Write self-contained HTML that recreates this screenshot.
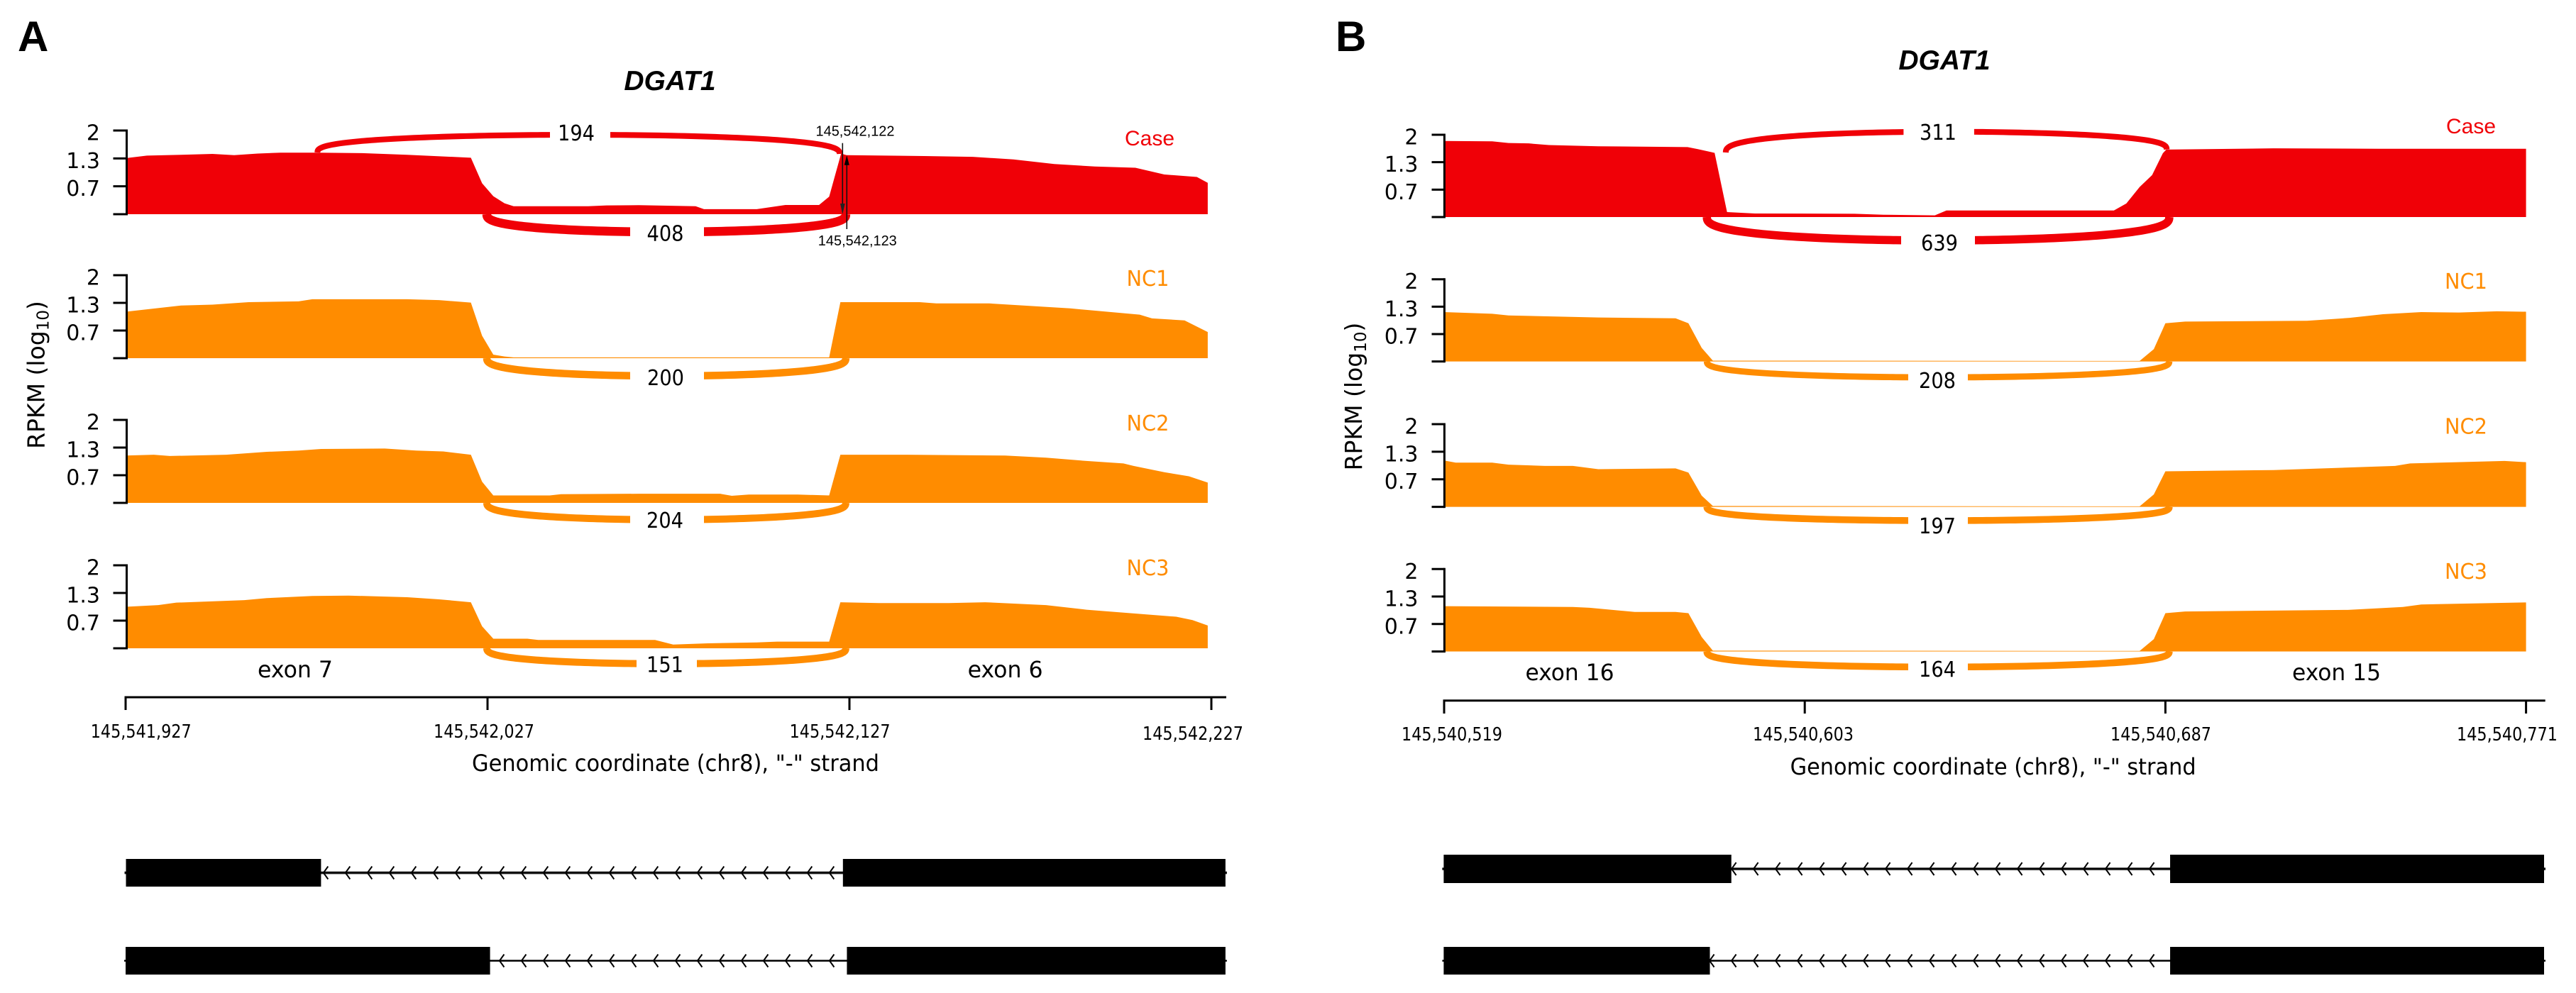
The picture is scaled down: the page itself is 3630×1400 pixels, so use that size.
<!DOCTYPE html>
<html lang="en">
<head>
<meta charset="utf-8">
<title>DGAT1 sashimi plots</title>
<style>
  html, body { margin: 0; padding: 0; background: #fff; }
  svg { display: block; }
  text { font-family: "DejaVu Sans", "Liberation Sans", sans-serif; fill: #000; }
  .arial { font-family: "Liberation Sans", sans-serif; }
  .panel-letter { font-family: "Liberation Sans", sans-serif; font-weight: 700; font-size: 60px; }
  .title { font-family: "Liberation Sans", sans-serif; font-weight: 700; font-style: italic; font-size: 39px; }
</style>
</head>
<body>
<svg id="chart" xmlns="http://www.w3.org/2000/svg" width="3630" height="1400" viewBox="0 0 3630 1400">
  <rect x="0" y="0" width="3630" height="1400" fill="#fff"/>
  <text class="panel-letter" x="25" y="72">A</text>
  <text class="panel-letter" x="1882" y="72">B</text>
  <text class="title" x="944" y="127" text-anchor="middle">DGAT1</text>
  <text class="title" x="2740" y="98" text-anchor="middle">DGAT1</text>

  <text font-size="33" text-anchor="middle" transform="translate(62.5 528.5) rotate(-90)">RPKM (log<tspan font-size="23" dy="6">10</tspan><tspan dy="-6">)</tspan></text>
  <text font-size="33" text-anchor="middle" transform="translate(1919 559) rotate(-90)">RPKM (log<tspan font-size="23" dy="6">10</tspan><tspan dy="-6">)</tspan></text>

  <text font-size="32" x="952" y="1087" text-anchor="middle" textLength="574" lengthAdjust="spacingAndGlyphs">Genomic coordinate (chr8), "-" strand</text>
  <text font-size="32" x="2808.6" y="1092" text-anchor="middle" textLength="572" lengthAdjust="spacingAndGlyphs">Genomic coordinate (chr8), "-" strand</text>

  <text font-size="32" x="416" y="955" text-anchor="middle" textLength="106" lengthAdjust="spacingAndGlyphs">exon 7</text>
  <text font-size="32" x="1416.6" y="955" text-anchor="middle" textLength="106" lengthAdjust="spacingAndGlyphs">exon 6</text>
  <text font-size="32" x="2212" y="959" text-anchor="middle" textLength="125" lengthAdjust="spacingAndGlyphs">exon 16</text>
  <text font-size="32" x="3292.5" y="959" text-anchor="middle" textLength="125" lengthAdjust="spacingAndGlyphs">exon 15</text>

  <g id="tracks"></g>
  <g id="axes"></g>
  <g id="genes"></g>

  <g>
    <line x1="1187.3" y1="201.7" x2="1187.3" y2="290" stroke="#111" stroke-width="1.6"/>
    <polygon points="1184,287 1190.7,287 1187.3,302" fill="#222"/>
    <line x1="1193.3" y1="323" x2="1193.3" y2="230" stroke="#111" stroke-width="1.6"/>
    <polygon points="1189.8,232.7 1196.8,232.7 1193.3,219" fill="#000"/>
    <text class="arial" font-size="20" x="1205" y="191.5" text-anchor="middle" textLength="111" lengthAdjust="spacingAndGlyphs">145,542,122</text>
    <text class="arial" font-size="20" x="1208.3" y="346" text-anchor="middle" textLength="111" lengthAdjust="spacingAndGlyphs">145,542,123</text>
  </g>
</svg>

<script>
// ---------- data: read-depth (log10 RPKM) at genomic offsets (bp from first tick) ----------
const aCaseBp  = [0,5.9,15.3,24,30,36.5,42.8,52.9,65.3,77.8,95.4,98.5,101.6,104.7,107.2,127.8,132.9,141.8,157.5,159.8,174.4,182.3,191.6,194.4,197.7,199.2,220.6,234.1,245.3,256.6,267.8,279,287,296,299];
const aCaseCov = [1.34,1.40,1.42,1.44,1.41,1.45,1.47,1.47,1.46,1.42,1.35,0.74,0.43,0.26,0.19,0.19,0.21,0.215,0.19,0.12,0.12,0.22,0.22,0.42,1.45,1.41,1.39,1.37,1.31,1.20,1.14,1.11,0.95,0.89,0.75];

const aNc1Bp  = [0,15.3,24,34,47.8,51.6,77.8,86.6,95.4,98.5,101.6,104.7,107.2,194.4,197.5,219.4,224,238.6,261,280.2,283.6,292.6,299];
const aNc1Cov = [1.12,1.27,1.29,1.35,1.37,1.42,1.42,1.40,1.34,0.54,0.085,0.04,0.02,0.02,1.35,1.35,1.32,1.32,1.20,1.05,0.96,0.91,0.63];

const aNc2Bp  = [0,7.8,12.2,27.8,39,47.8,54,71.6,80.3,87.8,95.4,98.5,101.6,117.2,120.3,141.8,164.3,167.5,172.2,185.7,194.4,197.5,216,243,254.3,265.5,275.7,278.5,287,293.8,299];
const aNc2Cov = [1.14,1.16,1.13,1.16,1.23,1.26,1.30,1.31,1.26,1.24,1.16,0.51,0.18,0.18,0.21,0.22,0.22,0.17,0.20,0.20,0.18,1.16,1.16,1.14,1.09,1.01,0.95,0.89,0.74,0.64,0.49];

const aNc3Bp  = [0,9,14,32.8,39,51.6,61.6,77.8,86.6,95.4,98.5,101.6,111,114,141.8,146.3,151.3,160.9,174.4,180,194.4,197.5,208.2,227.4,237.5,254.3,265.5,290.3,294.8,299];
const aNc3Cov = [1.0,1.04,1.10,1.16,1.21,1.26,1.27,1.23,1.18,1.11,0.53,0.23,0.23,0.20,0.20,0.20,0.09,0.12,0.14,0.16,0.16,1.11,1.09,1.09,1.11,1.04,0.93,0.76,0.68,0.55];

const bCaseBp  = [0,11.2,15,19.7,24.4,35.9,56.7,59.1,63,65.9,72.4,95.6,102.3,114.3,117,156,158.9,162,164.9,167.4,168.2,193.2,217.7,252];
const bCaseCov = [1.85,1.84,1.80,1.79,1.75,1.72,1.70,1.65,1.56,0.12,0.086,0.08,0.057,0.04,0.16,0.16,0.33,0.73,1.02,1.55,1.64,1.67,1.66,1.66];

const bNc1Bp  = [0,11.2,15,35.9,53.9,56.9,60,62.6,162,165.3,168,172.6,201,210.9,218.7,227.6,236.4,245.2,252];
const bNc1Cov = [1.20,1.16,1.12,1.07,1.05,0.93,0.33,0.02,0.012,0.30,0.93,0.97,0.99,1.06,1.15,1.20,1.19,1.22,1.21];

const bNc2Bp  = [0,2.7,11.2,15,23.5,30,35.9,53.9,56.9,60,62.6,162,165.3,168,193.2,221.5,225,247,252];
const bNc2Cov = [1.12,1.07,1.07,1.02,0.99,0.99,0.91,0.93,0.83,0.27,0.02,0.012,0.30,0.86,0.89,0.99,1.05,1.11,1.08];

const bNc3Bp  = [0,30,33.9,44.4,53.9,56.9,60,62.6,162,165.3,168,172.6,210.5,223.3,227.6,252];
const bNc3Cov = [1.10,1.08,1.06,0.96,0.96,0.93,0.35,0.02,0.012,0.30,0.93,0.97,1.01,1.08,1.14,1.19];

// ---------- data: junction read counts ----------
const aUpperCounts = [194];
const aLowerCounts = [408, 200, 204, 151];
const bUpperCounts = [311];
const bLowerCounts = [639, 208, 197, 164];

// ---------- data: junction endpoints (bp offsets) ----------
const aUpperJunction = [53, 197.3];
const aLowerJunction = [99.8, 199];
const bUpperJunction = [65.6, 168.3];
const bLowerJunction = [61.2, 168.9];

// ---------- data: axis tick labels ----------
const yTickValues = [0, 0.6667, 1.3333, 2];
const yTickLabels = ["", "0.7", "1.3", "2"];
const aXTickBp = [0, 100, 200, 300];
const aXTickLabels = ["145,541,927", "145,542,027", "145,542,127", "145,542,227"];
const bXTickBp = [0, 84, 168, 252];
const bXTickLabels = ["145,540,519", "145,540,603", "145,540,687", "145,540,771"];

// ---------- data: gene model exons (bp offsets) ----------
const aGeneRow1 = [[0.1, 54], [198.2, 303.9]];
const aGeneRow2 = [[0, 100.7], [199.3, 303.9]];
const bGeneRow1 = [[-0.1, 66.9], [169.1, 256.2]];
const bGeneRow2 = [[-0.1, 61.9], [169.1, 256.2]];

// ---------- drawing ----------
const NS = "http://www.w3.org/2000/svg";
const RED = "#f00007";
const ORANGE = "#ff8c00";
const tracksG = document.getElementById("tracks");
const axesG = document.getElementById("axes");
const genesG = document.getElementById("genes");

function make(tag, attrs, parent) {
  const el = document.createElementNS(NS, tag);
  for (const k in attrs) el.setAttribute(k, attrs[k]);
  parent.appendChild(el);
  return el;
}
function scaleX(panel) { return bp => panel.x0 + bp * panel.pxPerBp; }

const panelA = { id: "a", x0: 177, pxPerBp: 5.1, axisX: 178.5, tickFrom: 159.5, labelRight: 141, xAxisY: 983, xTickEnd: 1001, xAxisEnd: 1728,
  xTickBp: aXTickBp, xTickLabels: aXTickLabels, xLabelCenters: [198.7, 682, 1183.6, 1681], xLabelBase: [1040, 1040, 1040, 1043] };
const panelB = { id: "b", x0: 2035, pxPerBp: 6.05, axisX: 2035.4, tickFrom: 2017.5, labelRight: 1998.5, xAxisY: 987.7, xTickEnd: 1006, xAxisEnd: 3586.7,
  xTickBp: bXTickBp, xTickLabels: bXTickLabels, xLabelCenters: [2046, 2541, 3045, 3533], xLabelBase: [1044, 1044, 1044, 1044] };

const aTracks = [
  { name: "case", label: "Case", color: RED, top: 184, base: 302, bp: aCaseBp, cov: aCaseCov, labelX: 1620, labelY: 205, labelFont: "arial",
    lower: aLowerCounts[0], lowerK: 0.62, lowerPeak: 327, gap: [888, 992], lowerText: [937.5, 339.5],
    upper: aUpperCounts[0], upperK: 0.58, upperPeak: 190, upperFeet: [215, 217], upperGap: [775, 860], upperText: [812, 198] },
  { name: "nc1", label: "NC1", color: ORANGE, top: 388, base: 505, bp: aNc1Bp, cov: aNc1Cov, labelX: 1617.5, labelY: 403,
    lower: aLowerCounts[1], lowerK: 0.74, lowerPeak: 530, gap: [888, 992], lowerText: [938, 543] },
  { name: "nc2", label: "NC2", color: ORANGE, top: 592, base: 709, bp: aNc2Bp, cov: aNc2Cov, labelX: 1617.5, labelY: 607,
    lower: aLowerCounts[2], lowerK: 0.70, lowerPeak: 732.7, gap: [888, 992], lowerText: [937, 744.2] },
  { name: "nc3", label: "NC3", color: ORANGE, top: 797, base: 914, bp: aNc3Bp, cov: aNc3Cov, labelX: 1617.5, labelY: 811,
    lower: aLowerCounts[3], lowerK: 0.81, lowerPeak: 935.8, gap: [897, 982], lowerText: [937, 947.3] }
];
const bTracks = [
  { name: "case", label: "Case", color: RED, top: 190, base: 306, bp: bCaseBp, cov: bCaseCov, labelX: 3482, labelY: 188, labelFont: "arial",
    lower: bLowerCounts[0], lowerK: 0.46, lowerPeak: 339, gap: [2679, 2783], lowerText: [2733, 353],
    upper: bUpperCounts[0], upperK: 0.46, upperPeak: 185.7, upperFeet: [215, 210.7], upperGap: [2682.4, 2781.9], upperText: [2731, 197] },
  { name: "nc1", label: "NC1", color: ORANGE, top: 393.7, base: 509.6, bp: bNc1Bp, cov: bNc1Cov, labelX: 3475, labelY: 407,
    lower: bLowerCounts[1], lowerK: 0.61, lowerPeak: 532, gap: [2689, 2773], lowerText: [2730, 546.9] },
  { name: "nc2", label: "NC2", color: ORANGE, top: 598, base: 714.6, bp: bNc2Bp, cov: bNc2Cov, labelX: 3475, labelY: 611.5,
    lower: bLowerCounts[2], lowerK: 0.68, lowerPeak: 734, gap: [2689, 2773], lowerText: [2730, 751.9] },
  { name: "nc3", label: "NC3", color: ORANGE, top: 802.3, base: 918.5, bp: bNc3Bp, cov: bNc3Cov, labelX: 3475, labelY: 816,
    lower: bLowerCounts[3], lowerK: 0.75, lowerPeak: 940.4, gap: [2689, 2773], lowerText: [2730, 953.8] }
];

function arcPath(x0, x1, y0, y1, peak) {
  const xm = (x0 + x1) / 2, half = (x1 - x0) / 2;
  let d = "";
  for (let i = 0; i <= 120; i++) {
    const t = Math.sin(-Math.PI / 2 + Math.PI * i / 120);
    const foot = y0 + (y1 - y0) * (t + 1) / 2;
    const frac = Math.pow(Math.max(0, 1 - t * t), 0.37);
    const x = xm + t * half;
    const y = foot + (peak - foot) * frac;
    d += (i ? "L" : "M") + x.toFixed(2) + " " + y.toFixed(2);
  }
  return d;
}

function drawCountLabel(parent, count, pos, name) {
  const el = make("text", { x: pos[0], y: pos[1], "font-size": 30, "text-anchor": "middle", textLength: 52, lengthAdjust: "spacingAndGlyphs" }, parent);
  
  
  el.textContent = String(count);
}

function drawArc(parent, x0, x1, y0, y1, peak, width, color, gap, name) {
  const arc = make("path", { d: arcPath(x0, x1, y0, y1, peak), fill: "none", stroke: color, "stroke-width": width.toFixed(2) }, parent);
  
  
  const mask = make("rect", { x: gap[0], y: peak - width - 2, width: gap[1] - gap[0], height: width * 2 + 4, fill: "#fff" }, parent);
  
  
}

function drawPanel(panel, tracks, lowerJ, upperJ) {
  const X = scaleX(panel);
  tracks.forEach(tr => {
    const prefix = "panel-" + panel.id + "-" + tr.name;
    const Y = v => tr.base - (tr.base - tr.top) * v / 2;
    const g = make("g", {}, tracksG);
    
    

    let d = "M" + X(tr.bp[0]).toFixed(2) + " " + tr.base;
    tr.bp.forEach((b, i) => { d += "L" + X(b).toFixed(2) + " " + Y(tr.cov[i]).toFixed(2); });
    d += "L" + X(tr.bp[tr.bp.length - 1]).toFixed(2) + " " + tr.base + "Z";
    const area = make("path", { d: d, fill: tr.color }, g);
    
    

    drawArc(g, X(lowerJ[0]), X(lowerJ[1]), tr.base, tr.base, tr.lowerPeak, tr.lowerK * Math.sqrt(tr.lower), tr.color, tr.gap, prefix + '-lower-junction');
    drawCountLabel(g, tr.lower, tr.lowerText, prefix + '-lower-count');

    if (tr.upper !== undefined) {
      drawArc(g, X(upperJ[0]), X(upperJ[1]), tr.upperFeet[0], tr.upperFeet[1], tr.upperPeak, tr.upperK * Math.sqrt(tr.upper), tr.color, tr.upperGap, prefix + '-upper-junction');
      drawCountLabel(g, tr.upper, tr.upperText, prefix + '-upper-count');
    }

    const lab = make("text", { x: tr.labelX, y: tr.labelY, "font-size": 30, "text-anchor": "middle", textLength: tr.labelFont ? 70 : 60, lengthAdjust: "spacingAndGlyphs" }, g);
    
    
    if (tr.labelFont) lab.setAttribute("class", tr.labelFont);
    lab.style.fill = tr.color;
    lab.textContent = tr.label;

    const axis = make("g", { stroke: "#000", "stroke-width": 3, fill: "none" }, axesG);
    
    
    make("line", { x1: panel.axisX, x2: panel.axisX, y1: Y(2) - 1.5, y2: Y(0) + 1.5 }, axis);
    yTickValues.forEach((v, i) => {
      make("line", { x1: panel.tickFrom, x2: panel.axisX, y1: Y(v), y2: Y(v) }, axis);
      if (yTickLabels[i]) {
        const t = make("text", { x: panel.labelRight, y: Y(v) + 13.5, "font-size": 30, "text-anchor": "end", stroke: "none" }, axesG);
        
        
        t.textContent = yTickLabels[i];
      }
    });
  });

  const xa = make("g", { stroke: "#000", "stroke-width": 3, fill: "none" }, axesG);
  
  
  make("line", { x1: panel.x0 - 1.5, x2: panel.xAxisEnd, y1: panel.xAxisY, y2: panel.xAxisY }, xa);
  panel.xTickBp.forEach((b, i) => {
    make("line", { x1: X(b), x2: X(b), y1: panel.xAxisY, y2: panel.xTickEnd }, xa);
    const t = make("text", { x: panel.xLabelCenters[i], y: panel.xLabelBase[i], "font-size": 26, "text-anchor": "middle", textLength: 142, lengthAdjust: "spacingAndGlyphs" }, axesG);
    
    
    t.textContent = panel.xTickLabels[i];
  });
}

function drawGene(panel, exons, top, bottom, lineWidth, lastTipOffset, name, halo) {
  const X = scaleX(panel);
  const g = make("g", {}, genesG);
  
  
  const mid = (top + bottom) / 2;
  const left = X(exons[0][0]), right = X(exons[1][1]);
  if (halo) {
    const h = make("line", { x1: left - 2, x2: right + 2, y1: mid, y2: mid, stroke: "#808080", "stroke-width": lineWidth + 1.6 }, g);
    
    
  }
  const line = make("line", { x1: left - 2, x2: right + 2, y1: mid, y2: mid, stroke: "#000", "stroke-width": lineWidth }, g);
  
  
  const intronStart = X(exons[0][1]);
  for (let tip = X(exons[1][0]) - lastTipOffset; tip >= intronStart - 2; tip -= 31) {
    const c = make("polyline", { points: (tip + 6.5) + "," + (mid - 9) + " " + tip + "," + mid + " " + (tip + 6.5) + "," + (mid + 9), fill: "none", stroke: "#000", "stroke-width": 2 }, g);
    
    
  }
  exons.forEach(ex => {
    const r = make("rect", { x: X(ex[0]), y: top, width: X(ex[1]) - X(ex[0]), height: bottom - top, fill: "#000" }, g);
    
    
  });
}

drawPanel(panelA, aTracks, aLowerJunction, aUpperJunction);
drawPanel(panelB, bTracks, bLowerJunction, bUpperJunction);
drawGene(panelA, aGeneRow1, 1211, 1250, 2.6, 19, "panel-a-transcript-1", true);
drawGene(panelA, aGeneRow2, 1335, 1374, 2.6, 24.5, "panel-a-transcript-2", false);
drawGene(panelB, bGeneRow1, 1205, 1245, 2.6, 29, "panel-b-transcript-1", true);
drawGene(panelB, bGeneRow2, 1335, 1374, 2.6, 29, "panel-b-transcript-2", false);
</script>
</body>
</html>
